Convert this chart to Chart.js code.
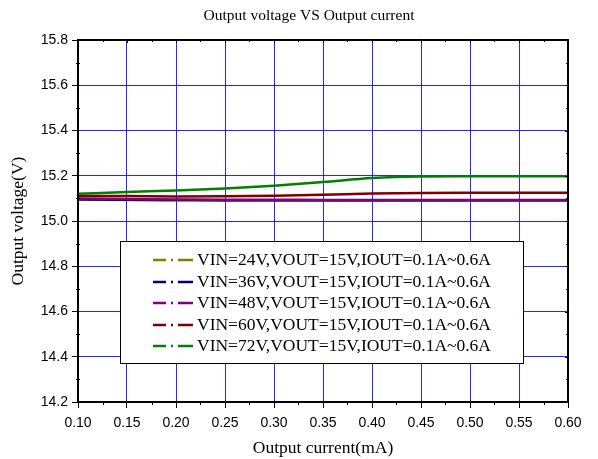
<!DOCTYPE html>
<html>
<head>
<meta charset="utf-8">
<script src="https://cdn.jsdelivr.net/npm/chart.js@4/dist/chart.umd.min.js"></script>
<style>
    html, body { margin: 0; padding: 0; background: #fff; }
    #wrap { width: 598px; height: 459px; }
</style>
</head>
<body>
<div id="wrap"><canvas id="vout"></canvas></div>
<script>
// output current (x)
let currents = [0.10, 0.15, 0.20, 0.25, 0.30, 0.35, 0.40, 0.45, 0.50, 0.55, 0.60];

let vin24 = [15.094, 15.093, 15.092, 15.091, 15.091, 15.091, 15.091, 15.091, 15.091, 15.091, 15.091];
let vin36 = [15.096, 15.094, 15.093, 15.092, 15.092, 15.092, 15.092, 15.092, 15.092, 15.092, 15.092];
let vin48 = [15.099, 15.097, 15.095, 15.094, 15.094, 15.093, 15.093, 15.093, 15.093, 15.093, 15.093];
let vin60 = [15.111, 15.110, 15.108, 15.109, 15.112, 15.116, 15.121, 15.124, 15.125, 15.125, 15.125];
let vin72 = [15.120, 15.128, 15.135, 15.144, 15.156, 15.172, 15.190, 15.197, 15.198, 15.198, 15.198];

let series_labels = [
    'VIN=24V,VOUT=15V,IOUT=0.1A~0.6A',
    'VIN=36V,VOUT=15V,IOUT=0.1A~0.6A',
    'VIN=48V,VOUT=15V,IOUT=0.1A~0.6A',
    'VIN=60V,VOUT=15V,IOUT=0.1A~0.6A',
    'VIN=72V,VOUT=15V,IOUT=0.1A~0.6A'
];
let series_colors = ['#808000', '#000080', '#800080', '#800000', '#008000'];
let series_values = [vin24, vin36, vin48, vin60, vin72];

let serif = '"Liberation Serif", "Times New Roman", serif';

function points(values) {
    return values.map(function (v, i) { return {x: currents[i], y: v}; });
}

let datasets = series_values.map(function (vals, i) {
    return {
        label: series_labels[i],
        data: points(vals),
        borderColor: series_colors[i],
        backgroundColor: series_colors[i],
        borderWidth: 2.5,
        pointRadius: 0,
        fill: false,
        cubicInterpolationMode: 'monotone',
        order: 5 - i
    };
});

// text drawn stretched to the width it has in the picture
function wide_text(ctx, text, x, y, width) {
    let w = ctx.measureText(text).width;
    ctx.save();
    ctx.translate(x, y);
    ctx.scale(width / w, 1);
    ctx.fillText(text, 0, 0);
    ctx.restore();
}

// title, minor ticks, frame and the boxed legend
let frame_plugin = {
    id: 'frame',
    afterDatasetsDraw(chart) {
        let ctx = chart.ctx;
        let a = chart.chartArea;
        let xs = chart.scales.x, ys = chart.scales.y;
        ctx.save();

        ctx.fillStyle = '#000';
        ctx.font = '15.5px ' + serif;
        ctx.textAlign = 'center';
        ctx.textBaseline = 'middle';
        ctx.fillText('Output voltage VS Output current', 309, 16);
        ctx.textAlign = 'left';

        ctx.strokeStyle = '#000';
        ctx.lineWidth = 1;
        ctx.beginPath();
        for (let v = 0.125; v < 0.6; v += 0.05) {
            let px = Math.round(xs.getPixelForValue(v)) + 0.5;
            ctx.moveTo(px, a.bottom); ctx.lineTo(px, a.bottom + 3);
            ctx.moveTo(px, a.top); ctx.lineTo(px, a.top + 2);
        }
        for (let v = 0.15; v < 0.6; v += 0.05) {
            let px = Math.round(xs.getPixelForValue(v)) + 0.5;
            ctx.moveTo(px, a.top); ctx.lineTo(px, a.top + 3);
        }
        for (let v = 14.3; v < 15.8; v += 0.2) {
            let py = Math.round(ys.getPixelForValue(v)) + 0.5;
            ctx.moveTo(a.left - 2, py); ctx.lineTo(a.left + 2, py);
            ctx.moveTo(a.right - 2, py); ctx.lineTo(a.right, py);
        }
        for (let v = 14.4; v < 15.8; v += 0.2) {
            let py = Math.round(ys.getPixelForValue(v)) + 0.5;
            ctx.moveTo(a.right - 3, py); ctx.lineTo(a.right, py);
        }
        ctx.stroke();

        ctx.lineWidth = 2;
        ctx.strokeRect(a.left, a.top, a.right - a.left, a.bottom - a.top);

        // legend box
        let bx = 120, by = 241, bw = 403, bh = 122;
        ctx.fillStyle = '#fff';
        ctx.fillRect(bx, by, bw, bh);
        ctx.lineWidth = 1;
        ctx.strokeRect(bx + 0.5, by + 0.5, bw, bh);
        ctx.font = '16px ' + serif;
        ctx.textBaseline = 'middle';
        chart.data.datasets.forEach(function (ds, i) {
            let y = Math.round(260 + i * 21.5);
            ctx.strokeStyle = ds.borderColor;
            ctx.lineWidth = 2.5;
            ctx.beginPath();
            ctx.moveTo(153, y); ctx.lineTo(166, y);
            ctx.moveTo(171, y); ctx.lineTo(173, y);
            ctx.moveTo(178, y); ctx.lineTo(193, y);
            ctx.stroke();
            ctx.fillStyle = '#000';
            wide_text(ctx, ds.label, 197, y + 1, 294);
        });
        ctx.restore();
    }
};

let major_grid = function (c) {
    if (!c.tick) return 'rgba(0,0,0,0)';
    return 'rgba(0,0,255,0.85)';
};

let chart_param = {
    type: 'line',
    data: { datasets: datasets },
    plugins: [frame_plugin],
    options: {
        responsive: true,
        maintainAspectRatio: false,
        animation: false,
        layout: { padding: { left: 0, right: 30, top: 40, bottom: 0 } },
        plugins: {
            legend: { display: false },
            tooltip: { enabled: false },
            title: { display: false }
        },
        scales: {
            x: {
                type: 'linear',
                min: 0.10,
                max: 0.60,
                afterFit: function (s) { s.height = 57; },
                ticks: {
                    stepSize: 0.05,
                    color: '#000',
                    padding: 7,
                    font: { family: '"Liberation Sans", Arial, sans-serif', size: 14 },
                    callback: function (v) { return v.toFixed(2); }
                },
                grid: { color: major_grid, lineWidth: 1, tickLength: 6, tickColor: '#000' },
                border: { display: true, color: '#000', width: 2 },
                title: {
                    display: true,
                    text: 'Output current(mA)',
                    color: '#000',
                    font: { family: serif, size: 17.5, lineHeight: 1.2 },
                    padding: { top: 0, bottom: 0 }
                }
            },
            y: {
                min: 14.2,
                max: 15.8,
                afterFit: function (s) { s.width = 78; },
                ticks: {
                    stepSize: 0.2,
                    color: '#000',
                    padding: 4,
                    font: { family: '"Liberation Sans", Arial, sans-serif', size: 14 },
                    callback: function (v) { return v.toFixed(1); }
                },
                grid: { color: major_grid, lineWidth: 1, tickLength: 6, tickColor: '#000' },
                border: { display: true, color: '#000', width: 2 },
                title: {
                    display: true,
                    text: 'Output voltage(V)',
                    color: '#000',
                    font: { family: serif, size: 17.5, lineHeight: 1.2 },
                    padding: { top: 8, bottom: 0 }
                }
            }
        }
    }
};

let vout_chart = new Chart(document.getElementById('vout'), chart_param);
</script>
</body>
</html>
